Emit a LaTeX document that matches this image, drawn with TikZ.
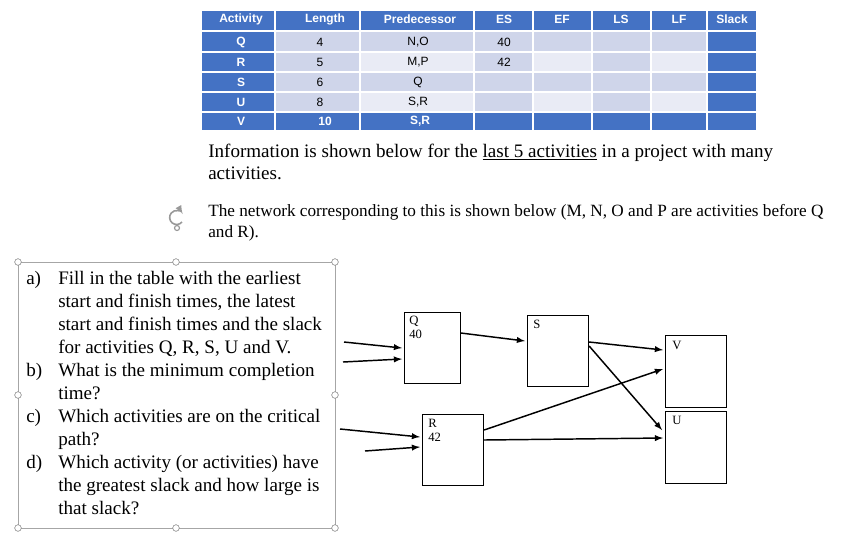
\documentclass[tikz,border=0pt]{standalone}
\usepackage{fontspec}
\setmainfont{Liberation Serif}
\newfontfamily\tabfont{Liberation Sans}
\usetikzlibrary{calc}
\definecolor{hdblue}{HTML}{4472C4}
\definecolor{bandA}{HTML}{CFD5EA}
\definecolor{bandB}{HTML}{E9EBF5}
\tikzset{
  cell/.style={fill=#1, draw=white, line width=1.2pt},
  celltext/.style={font=\tabfont\fontsize{9}{10}\selectfont, inner sep=0pt},
  headtext/.style={celltext, text=white, font=\tabfont\bfseries\fontsize{9}{10}\selectfont},
  act/.style={draw=black, line width=0.6pt, minimum width=#1, inner sep=0pt},
  boxlabel/.style={font=\fontsize{9.5}{10.5}\selectfont, align=left, inner sep=0pt, anchor=north west},
  line/.style={font=\fontsize{14.3}{16}\selectfont, anchor=base west, inner sep=0pt},
  arr/.style={-latex, line width=1.1pt},
  handle/.style={circle, draw=gray, fill=white, inner sep=0pt, minimum size=5pt}
}
\begin{document}
\begin{tikzpicture}[x=0.75pt, y=-0.75pt]
\useasboundingbox (0,0) rectangle (867,558);
% table
\foreach \xa/\xb [count=\c] in {201/275,275/360,360/474,474/533,533/592,592/651,651/707,707/757}{
  \foreach \ya/\yb [count=\r] in {10/31,31/52,52/72,72/92,92/112,112/131}{
    \pgfmathtruncatemacro{\dark}{(\r==1 || \r==6 || \c==1 || \c==8) ? 1 : 0}
    \pgfmathtruncatemacro{\band}{(\r==2 || \r==4 || \c==2 || \c==4 || \c==6) ? 1 : 0}
    \ifnum\dark=1 \def\cc{hdblue}\else\ifnum\band=1 \def\cc{bandA}\else\def\cc{bandB}\fi\fi
    \fill[cell=\cc] (\xa,\ya) rectangle (\xb,\yb);
  }
}
\foreach \t/\x in {Activity/241,Length/325,Predecessor/420,ES/504,EF/562,LS/621,LF/679,Slack/732}
  \node[headtext] at (\x,19) {\t};
\foreach \a/\l/\p/\e [count=\r] in {Q/4/{N,O}/40,R/5/{M,P}/42,S/6/Q/,U/8/{S,R}/}{
  \node[headtext] at (241,{22+20*\r}) {\a};
  \node[celltext] at (320,{22+20*\r}) {\l};
  \node[celltext] at (418,{22+20*\r}) {\p};
  \node[celltext] at (504,{22+20*\r}) {\e};
}
\node[headtext] (vact) at (241,121) {V};
\node[headtext] (vlen) at (325,121) {10};
\node[headtext] (vpre) at (420,121) {S,R};
% text
\node[line] (info1) at (208,157) {Information is shown below for the \underline{last 5 activities} in a project with many};
\node[line] (info2) at (208,179) {activities.};
\node[line, font=\fontsize{12.9}{14}\selectfont] (net1) at (208,216) {The network corresponding to this is shown below (M, N, O and P are activities before Q};
\node[line, font=\fontsize{12.9}{14}\selectfont] (net2) at (208,237) {and R).};
% rotate icon
\draw[gray!80, line width=1.2pt, -{latex}] (182,222) arc (40:330:7);
\draw[gray!80, line width=0.9pt] (177,228) circle (2.5);
% question box
\draw[gray!70, line width=0.6pt] (18,262) rectangle (335,528);
\foreach \p in {(18,262),(176,262),(335,262),(18,395),(335,395),(18,528),(176,528),(335,528)}
  \node[handle] at \p {};
\foreach \lab/\txt/\y in {a)/{Fill in the table with the earliest}/284,
  /{start and finish times, the latest}/307, /{start and finish times and the slack}/330,
  /{for activities Q, R, S, U and V.}/353, b)/{What is the minimum completion}/376,
  /{time?}/399, c)/{Which activities are on the critical}/422, /{path?}/445,
  d)/{Which activity (or activities) have}/468, /{the greatest slack and how large is}/491,
  /{that slack?}/514}{
  \node[line] at (26,\y) {\lab};
  \node[line] at (58,\y) {\txt};
}
% network
\node[act=42, minimum height=53, anchor=north west] (Q) at (404,312) {};
\node[act=46, minimum height=53, anchor=north west] (S) at (527,315) {};
\node[act=46, minimum height=54, anchor=north west] (V) at (665,335) {};
\node[act=46, minimum height=54, anchor=north west] (U) at (665,411) {};
\node[act=46, minimum height=53, anchor=north west] (R) at (422,414) {};
\node[boxlabel] at ($(Q.north west)+(5,4)$) {Q\\40};
\node[boxlabel] at ($(S.north west)+(6,5)$) {S};
\node[boxlabel] at ($(V.north west)+(7,6)$) {V};
\node[boxlabel] at ($(U.north west)+(7,5)$) {U};
\node[boxlabel] at ($(R.north west)+(6,5)$) {R\\42};
\coordinate (inQ1) at (344,342);
\coordinate (inQ2) at (343,362);
\coordinate (inR1) at (340,429);
\coordinate (inR2) at (365,451);
\draw[arr] (inQ1) -- ($(Q.north west)+(-2,36)$);
\draw[arr] (inQ2) -- ($(Q.north west)+(-2,47)$);
\draw[arr] ($(Q.north east)+(0,21)$) -- ($(S.north west)+(-2,26)$);
\draw[arr] ($(S.north east)+(0,27)$) -- ($(V.north west)+(-2,15)$);
\draw[arr] ($(S.north east)+(0,31)$) -- ($(U.north west)+(-3,19)$);
\draw[arr] ($(R.north east)+(0,16)$) -- ($(V.north west)+(-2,34)$);
\draw[arr] ($(R.north east)+(0,26)$) -- ($(U.north west)+(-2,27)$);
\draw[arr] (inR1) -- ($(R.north west)+(-2,23)$);
\draw[arr] (inR2) -- ($(R.north west)+(-2,33)$);
\end{tikzpicture}
\end{document}
